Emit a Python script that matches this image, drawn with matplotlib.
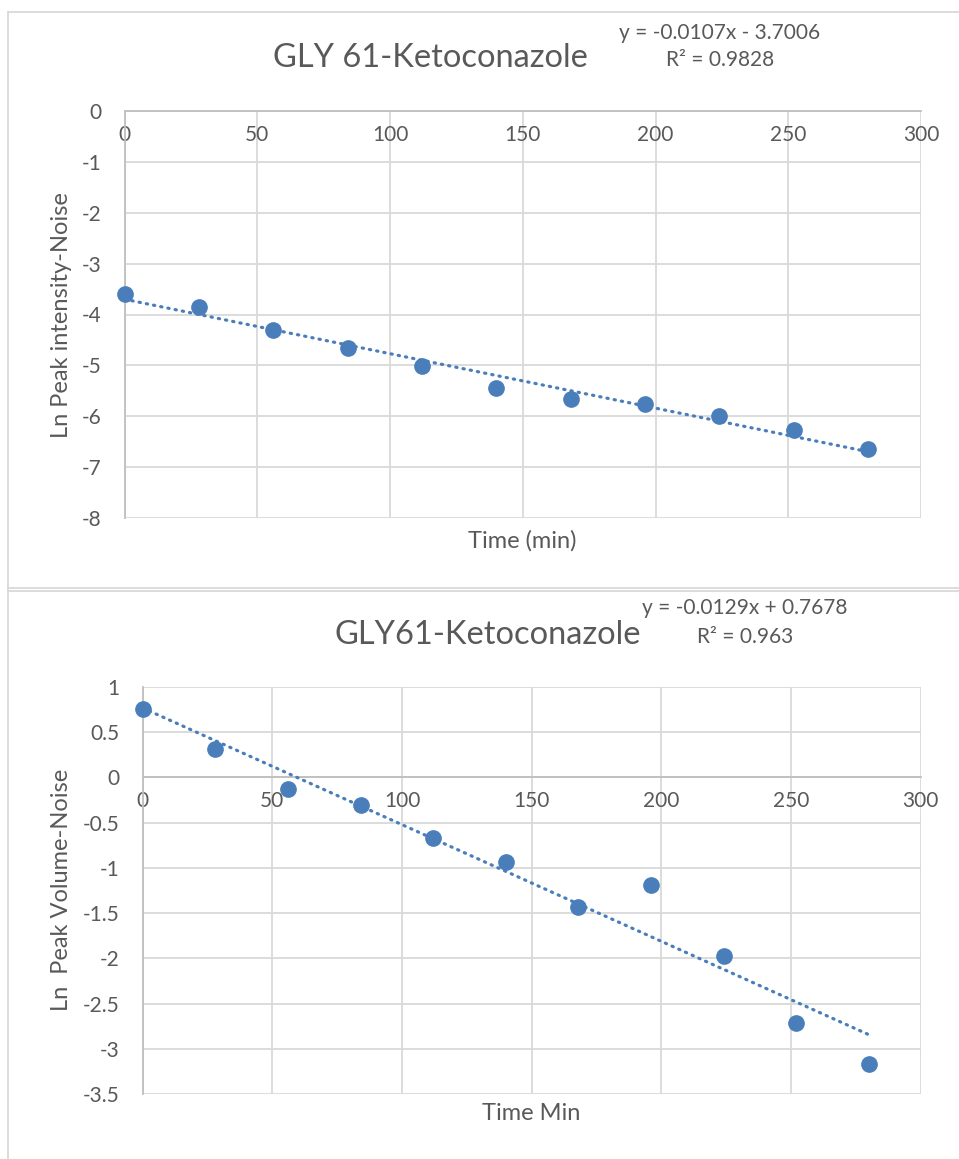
import numpy as np
import matplotlib
matplotlib.use("Agg")
import matplotlib.pyplot as plt
from matplotlib.lines import Line2D

plt.rcParams['font.family'] = ['Lato', 'DejaVu Sans']

# ---------------- data ----------------
time_min = [0, 28, 56, 84, 112, 140, 168, 196, 224, 252, 280]
ln_intensity = [-3.60, -3.85, -4.30, -4.65, -5.01, -5.45, -5.67, -5.75, -6.00, -6.27, -6.65]
ln_volume = [0.757, 0.311, -0.131, -0.305, -0.67, -0.935, -1.43, -1.19, -1.97, -2.715, -3.17]

fit1_slope, fit1_intercept = -0.0107, -3.7006
fit2_slope, fit2_intercept = -0.0129, 0.7678

title1 = "GLY 61-Ketoconazole"
title2 = "GLY61-Ketoconazole"
eq1 = "y = -0.0107x - 3.7006"
r2_1 = "R² = 0.9828"
eq2 = "y = -0.0129x + 0.7678"
r2_2 = "R² = 0.963"
xlabel1 = "Time (min)"
xlabel2 = "Time Min"
ylabel1 = "Ln Peak intensity-Noise"
ylabel2 = "Ln  Peak Volume-Noise"

x_ticks = [0, 50, 100, 150, 200, 250, 300]
y1_ticks = [0, -1, -2, -3, -4, -5, -6, -7, -8]
y2_ticks = [1, 0.5, 0, -0.5, -1, -1.5, -2, -2.5, -3, -3.5]

# ---------------- style ----------------
W, H = 959, 1159
TXT = '#595959'
GRID = '#d9d9d9'
AXL = '#bfbfbf'
BLUE = '#4a7ebb'
TICK_FS = 15
EQ_FS = 15
AXT_FS = 17
TITLE_FS = 23.5

fig = plt.figure(figsize=(W / 100, H / 100), dpi=100)

def fx(px):
    return px / W

def fy(py):
    return 1 - py / H

# chart frames
for (x0, y0, x1, y1) in [(8, 12, 959, 12), (8, 12, 8, 1159), (8, 588, 959, 588), (8, 591, 959, 591)]:
    fig.add_artist(Line2D([fx(x0), fx(x1)], [fy(y0), fy(y1)], color=GRID, lw=1.3,
                          transform=fig.transFigure))


def make_axes(rect_px, x, y, slope, intercept, yticks, ylim):
    l, t, r, b = rect_px
    ax = fig.add_axes([fx(l), fy(b), fx(r) - fx(l), fy(t) - fy(b)])
    ax.set_xlim(0, 300)
    ax.set_ylim(*ylim)
    ax.set_xticks(x_ticks)
    ax.set_yticks(yticks)
    ax.set_yticklabels([f"{v:g}" for v in yticks])
    ax.grid(True, color=GRID, lw=1.3)
    ax.set_axisbelow(True)
    for s in ['top', 'right']:
        ax.spines[s].set_visible(False)
    ax.spines['bottom'].set_position(('data', 0))
    ax.spines['bottom'].set_color(AXL)
    ax.spines['bottom'].set_linewidth(1.3)
    ax.spines['left'].set_color(AXL)
    ax.spines['left'].set_linewidth(1.3)
    ax.tick_params(axis='both', length=0, labelsize=TICK_FS, colors=TXT)
    ax.tick_params(axis='x', pad=10)
    ax.tick_params(axis='y', pad=17)
    # trendline
    xs = np.array([min(x), max(x)], dtype=float)
    ax.plot(xs, slope * xs + intercept, color=BLUE, lw=2.3,
            linestyle=(0, (0.4, 1.9)), dash_capstyle='round', zorder=3)
    ax.plot(x, y, 'o', color=BLUE, ms=11, mec=BLUE, zorder=4, clip_on=False)
    return ax


ax1 = make_axes((124.7, 111, 921, 518), time_min, ln_intensity, fit1_slope, fit1_intercept,
                y1_ticks, (-8, 0))
ax2 = make_axes((142.7, 687, 920.7, 1094), time_min, ln_volume, fit2_slope, fit2_intercept,
                y2_ticks, (-3.5, 1))

# titles, equations and axis titles
fig.text(fx(430), fy(58), title1, ha='center', va='center', fontsize=TITLE_FS, color=TXT)
fig.text(fx(720), fy(33), eq1, ha='center', va='center', fontsize=EQ_FS, color=TXT)
fig.text(fx(720), fy(60), r2_1, ha='center', va='center', fontsize=EQ_FS, color=TXT)
fig.text(fx(522), fy(541), xlabel1, ha='center', va='center', fontsize=AXT_FS, color=TXT)
fig.text(fx(62), fy(315), ylabel1, ha='center', va='center', rotation=90, fontsize=AXT_FS, color=TXT)

fig.text(fx(488), fy(635), title2, ha='center', va='center', fontsize=TITLE_FS, color=TXT)
fig.text(fx(745), fy(608), eq2, ha='center', va='center', fontsize=EQ_FS, color=TXT)
fig.text(fx(745), fy(637), r2_2, ha='center', va='center', fontsize=EQ_FS, color=TXT)
fig.text(fx(531), fy(1114), xlabel2, ha='center', va='center', fontsize=AXT_FS, color=TXT)
fig.text(fx(62), fy(890), ylabel2, ha='center', va='center', rotation=90, fontsize=AXT_FS, color=TXT)

fig.savefig('out.png', dpi=100, facecolor='white')
